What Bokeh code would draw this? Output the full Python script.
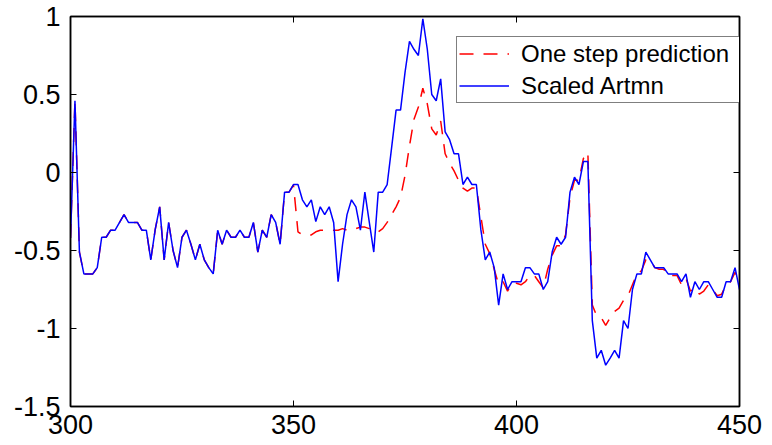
from bokeh.plotting import figure
from bokeh.models import Range1d, FixedTicker, LinearAxis, Legend, LegendItem
from bokeh.embed import file_html
from bokeh.resources import INLINE

# Sample index along the horizontal axis
samples = list(range(300, 451))

# Scaled Artmn series (samples 300..450)
artmn = [
    -0.42, 0.46, -0.51, -0.65, -0.65, -0.65, -0.61, -0.415, -0.415, -0.37,
    -0.37, -0.32, -0.27, -0.32, -0.32, -0.32, -0.37, -0.37, -0.56, -0.365,
    -0.22, -0.56, -0.32, -0.50, -0.61, -0.415, -0.37, -0.46, -0.56, -0.46,
    -0.56, -0.61, -0.65, -0.37, -0.46, -0.37, -0.415, -0.415, -0.37, -0.415,
    -0.415, -0.32, -0.51, -0.37, -0.415, -0.27, -0.32, -0.46, -0.126, -0.126,
    -0.077, -0.077, -0.175, -0.22, -0.175, -0.315, -0.22, -0.27, -0.22, -0.32,
    -0.70, -0.46, -0.27, -0.175, -0.22, -0.37, -0.126, -0.32, -0.51, -0.126,
    -0.126, -0.077, 0.16, 0.40, 0.40, 0.64, 0.84, 0.79, 0.75, 0.985,
    0.79, 0.50, 0.46, 0.60, 0.26, 0.21, 0.12, 0.12, -0.077, -0.03,
    -0.077, -0.077, -0.365, -0.56, -0.51, -0.61, -0.85, -0.65, -0.75, -0.70,
    -0.70, -0.70, -0.61, -0.61, -0.65, -0.65, -0.75, -0.70, -0.51, -0.415,
    -0.46, -0.415, -0.126, -0.03, -0.077, 0.07, 0.07, -0.95, -1.19, -1.14,
    -1.235, -1.19, -1.14, -1.19, -0.95, -1.0, -0.75, -0.65, -0.65, -0.51,
    -0.56, -0.61, -0.61, -0.61, -0.65, -0.65, -0.65, -0.70, -0.65, -0.80,
    -0.70, -0.75, -0.70, -0.70, -0.75, -0.80, -0.80, -0.70, -0.70, -0.61,
    -0.75,
]

# One step prediction series (samples 300..450)
prediction = [
    -0.42, 0.46, -0.51, -0.65, -0.65, -0.65, -0.61, -0.415, -0.415, -0.37,
    -0.37, -0.32, -0.27, -0.32, -0.32, -0.32, -0.37, -0.37, -0.56, -0.365,
    -0.22, -0.56, -0.32, -0.50, -0.61, -0.415, -0.37, -0.46, -0.56, -0.46,
    -0.56, -0.61, -0.65, -0.37, -0.46, -0.37, -0.415, -0.415, -0.37, -0.415,
    -0.415, -0.32, -0.51, -0.37, -0.415, -0.27, -0.32, -0.46, -0.126, -0.126,
    -0.08, -0.38, -0.40, -0.40, -0.40, -0.38, -0.37, -0.37, -0.37, -0.37,
    -0.37, -0.36, -0.37, -0.37, -0.36, -0.35, -0.35, -0.36, -0.38, -0.38,
    -0.36, -0.32, -0.27, -0.22, -0.16, -0.02, 0.17, 0.34, 0.42, 0.54,
    0.44, 0.28, 0.24, 0.33, 0.12, 0.06, 0.01, -0.05, -0.10, -0.12,
    -0.10, -0.10, -0.28, -0.46, -0.52, -0.62, -0.72, -0.70, -0.76, -0.71,
    -0.71, -0.72, -0.70, -0.66, -0.66, -0.70, -0.74, -0.62, -0.53, -0.47,
    -0.47, -0.40, -0.16, -0.05, -0.05, 0.09, 0.13, -0.85, -0.92, -0.93,
    -0.98, -0.93, -0.89, -0.87, -0.82, -0.79, -0.72, -0.65, -0.63, -0.56,
    -0.56, -0.61, -0.62, -0.62, -0.66, -0.66, -0.66, -0.72, -0.68, -0.76,
    -0.74, -0.78, -0.76, -0.72, -0.75, -0.79, -0.78, -0.72, -0.70, -0.64,
    -0.69,
]

x_ticks = [300, 350, 400, 450]
y_ticks = [-1.5, -1, -0.5, 0, 0.5, 1]
y_tick_labels = ["-1.5", "-1", "-0.5", "0", "0.5", "1"]

FONT = "Liberation Sans"
FONT_SIZE = "27px"

p = figure(
    width=772, height=445,
    output_backend="svg", toolbar_location=None,
    x_range=Range1d(300, 450), y_range=Range1d(-1.5, 1),
    min_border_left=70, min_border_right=33,
    min_border_top=16, min_border_bottom=39,
    background_fill_color="white", border_fill_color="white",
)
p.grid.visible = False
p.outline_line_color = "black"
p.outline_line_width = 1.5


def style_axis(ax, ticker, show_labels):
    ax.ticker = FixedTicker(ticks=ticker)
    ax.axis_line_color = "black"
    ax.axis_line_width = 1.5
    ax.major_tick_line_color = "black"
    ax.major_tick_line_width = 1
    ax.major_tick_in = 6
    ax.major_tick_out = 0
    ax.minor_tick_line_color = None
    if show_labels:
        ax.major_label_text_font = FONT
        ax.major_label_text_font_size = FONT_SIZE
        ax.major_label_text_color = "black"
    else:
        # tick marks only on the box edges
        ax.major_label_text_font_size = "1px"
        ax.major_label_text_color = None
        ax.major_label_standoff = 0


style_axis(p.xaxis[0], x_ticks, True)
p.xaxis[0].major_label_standoff = 8
style_axis(p.yaxis[0], y_ticks, True)
p.yaxis[0].major_label_standoff = 10
p.yaxis[0].major_label_overrides = dict(zip(y_ticks, y_tick_labels))

# Box ticks on the top and right edges
top_axis = LinearAxis()
style_axis(top_axis, x_ticks, False)
p.add_layout(top_axis, "above")
right_axis = LinearAxis()
style_axis(right_axis, y_ticks, False)
p.add_layout(right_axis, "right")

r_pred = p.line(samples, prediction, line_color="#ff0000", line_width=1.5,
                line_dash="14 10")
r_art = p.line(samples, artmn, line_color="#0000ff", line_width=1.5)

legend = Legend(
    items=[
        LegendItem(label="One step prediction", renderers=[r_pred]),
        LegendItem(label="Scaled Artmn", renderers=[r_art]),
    ],
    location=(386, 303),
    label_text_font=FONT, label_text_font_size="24px",
    label_text_color="black",
    border_line_color="black", border_line_width=1.5,
    background_fill_color="white", background_fill_alpha=1.0,
    padding=2, spacing=3, margin=0,
    label_height=29, glyph_height=29,
    glyph_width=50, label_standoff=12, label_width=280,
)
p.add_layout(legend)

html = file_html(p, INLINE)
open("out.html", "w").write(html)
